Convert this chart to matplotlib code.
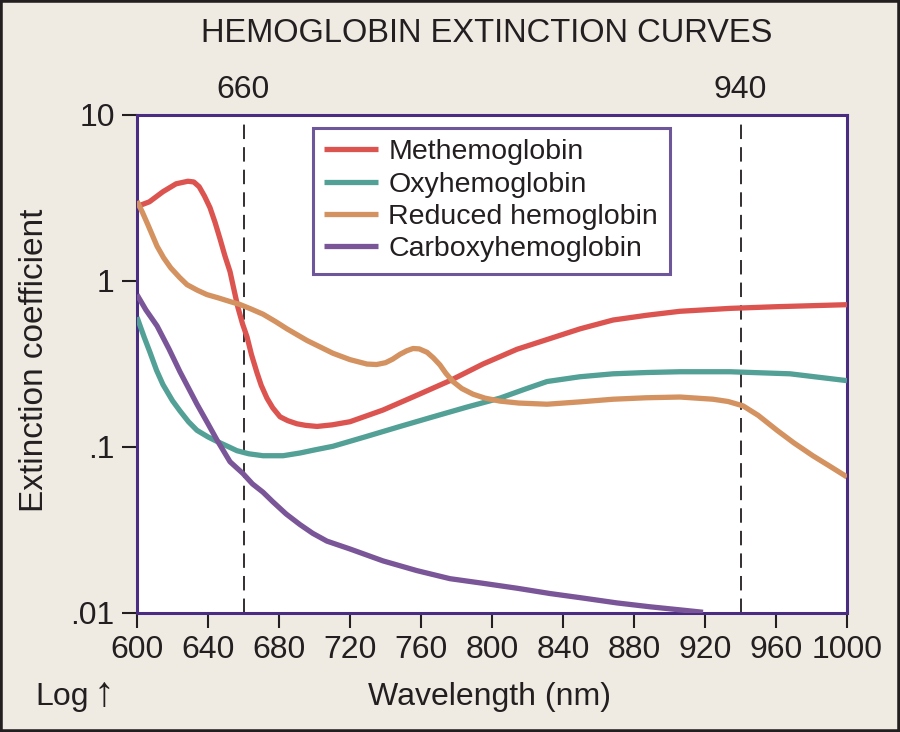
import matplotlib
matplotlib.use("Agg")
import matplotlib.pyplot as plt
from matplotlib.patches import Rectangle

plt.rcParams['font.family'] = ['Liberation Sans', 'DejaVu Sans']

# ---- data ----
met_wl = [600, 607, 614.6, 622, 628.7, 632, 635, 638, 641.1, 644, 646.8, 649.5, 652.4, 654.5,
          656.9, 659.5, 662, 664.5, 667.6, 670, 673.2, 676.5, 680.6, 685, 690.1, 695,
          701.4, 710, 720, 738.6, 757.7, 776.3, 794.9, 814.1, 832.7, 849.6, 868.2, 887.3, 905.9,
          934.1, 960, 1000]
met_val = [2.81, 3.0, 3.45, 3.85, 3.99, 3.95, 3.7, 3.25, 2.77, 2.25, 1.79, 1.42, 1.14, 0.9,
           0.69, 0.55, 0.46, 0.36, 0.28, 0.235, 0.197, 0.172, 0.152, 0.144, 0.138, 0.135,
           0.133, 0.136, 0.142, 0.167, 0.205, 0.251, 0.316, 0.388, 0.45, 0.515, 0.582, 0.622, 0.657,
           0.684, 0.70, 0.72]

oxy_wl = [600, 604, 607.3, 611, 614.6, 620, 624.2, 629, 633.8, 640, 645.1, 651, 656.3, 663, 671,
          682.3, 691.8, 700, 710.4, 729.6, 748.2, 766.8, 785.9, 804.5, 818, 831, 849.6, 868.2,
          887, 905.9, 934.1, 967.9, 1000]
oxy_val = [0.605, 0.46, 0.372, 0.29, 0.238, 0.19, 0.165, 0.142, 0.126, 0.115, 0.108, 0.101,
           0.095, 0.091, 0.0886, 0.0886, 0.092, 0.096, 0.101, 0.116, 0.133, 0.152, 0.174, 0.197,
           0.222, 0.248, 0.265, 0.276, 0.281, 0.284, 0.284, 0.276, 0.251]

red_wl = [600, 603, 606, 611.3, 615, 619, 624, 628.2, 634, 639.4, 646, 652.4, 658, 664, 671,
          678, 684.5, 695.8, 710.4, 720, 729.6, 735, 740, 744, 748.2, 752, 755.5, 759, 763.4,
          767, 770.7, 774, 778, 783, 789.3, 796, 804.5, 815, 831, 849.6, 868.2, 887, 905.9, 924.5,
          933, 941.4, 950, 960.6, 970, 980.8, 990, 1000]
red_val = [3.03, 2.6, 2.2, 1.62, 1.38, 1.2, 1.05, 0.95, 0.88, 0.828, 0.79, 0.752, 0.722, 0.68,
           0.631, 0.57, 0.515, 0.438, 0.367, 0.336, 0.316, 0.314, 0.322, 0.338, 0.362, 0.38,
           0.392, 0.39, 0.372, 0.344, 0.312, 0.278, 0.248, 0.225, 0.208, 0.197, 0.189, 0.184,
           0.181, 0.187, 0.194, 0.198, 0.20, 0.194, 0.188, 0.177, 0.155, 0.126, 0.106, 0.0885,
           0.077, 0.066]

carb_wl = [600, 605, 611.3, 618, 624.2, 633.8, 640, 645.1, 652.4, 659.7, 665, 671, 676.6, 684,
           691.8, 699, 707, 720, 738.6, 757.7, 776.3, 794.9, 814.1, 832.7, 851.3, 870.4, 889,
           907.6, 918.9]
carb_val = [0.827, 0.67, 0.536, 0.39, 0.284, 0.181, 0.138, 0.11, 0.0815, 0.0692, 0.06, 0.0534,
            0.0467, 0.0395, 0.0341, 0.0302, 0.0271, 0.0243, 0.0206, 0.018, 0.0161, 0.0151, 0.0141,
            0.0131, 0.0123, 0.0115, 0.0109, 0.0104, 0.0101]

series_labels = ["Methemoglobin", "Oxyhemoglobin", "Reduced hemoglobin", "Carboxyhemoglobin"]
series_colors = ["#dc5450", "#52a096", "#d39260", "#7a5699"]

x_ticks = [600, 640, 680, 720, 760, 800, 840, 880, 920, 960, 1000]
y_ticks = [0.01, 0.1, 1, 10]
y_tick_labels = [".01", ".1", "1", "10"]
marker_wl = [660, 940]

# ---- figure ----
BG = "#efebe3"
SPINE = "#4a2c82"
INK = "#231f20"
fig = plt.figure(figsize=(9, 7.32), dpi=100, facecolor=BG)
fig.patches.append(Rectangle((0, 0), 1, 1, transform=fig.transFigure, fill=False,
                             edgecolor=INK, linewidth=4, zorder=10))

ax = fig.add_axes([137/900, 1-613/732, (847-137)/900, (613-115)/732])
ax.set_facecolor("white")
ax.set_yscale("log")
ax.set_xlim(600, 1000)
ax.set_ylim(0.01, 10)

for wl, val, lab, col in zip([met_wl, oxy_wl, red_wl, carb_wl],
                             [met_val, oxy_val, red_val, carb_val],
                             series_labels, series_colors):
    ax.plot(wl, val, color=col, lw=3.8, label=lab, solid_capstyle="butt",
            solid_joinstyle="round", zorder=3)

for m in marker_wl:
    ax.axvline(m, color=INK, lw=1.3, ls=(0, (8, 4.5)), zorder=2)
    ax.text(m, 1.02, str(m), transform=ax.get_xaxis_transform(), ha="center",
            va="bottom", fontsize=23, color=INK)

ax.set_xticks(x_ticks)
ax.set_xticklabels([str(t) for t in x_ticks])
ax.set_yticks(y_ticks)
ax.set_yticklabels(y_tick_labels)
ax.minorticks_off()
ax.tick_params(axis="both", length=11, width=1.5, color=INK, labelsize=23,
               labelcolor=INK, pad=5)
for s in ax.spines.values():
    s.set_color(SPINE)
    s.set_linewidth(2.2)

ax.set_ylabel("Extinction coefficient", fontsize=24, color=INK)
ax.yaxis.set_label_coords(-(137-50)/710, 0.508)

fig.text(487/900, 1-33/732, "HEMOGLOBIN EXTINCTION CURVES", ha="center", va="center",
         fontsize=23.5, color=INK)
fig.text(490/900, 1-697/732, "Wavelength (nm)", ha="center", va="center",
         fontsize=23, color=INK)
fig.text(35/900, 1-697/732, "Log", ha="left", va="center", fontsize=23, color=INK)
fig.text(104/900, 1-695/732, "\u2191", ha="center", va="center", fontsize=30,
         color=INK, family=["Liberation Sans", "DejaVu Sans"])

leg = ax.legend(loc="upper left", bbox_to_anchor=(313/900, 1-128/732),
                bbox_transform=fig.transFigure, fontsize=20.5, frameon=True,
                fancybox=False, edgecolor=SPINE, handlelength=1.9, handletextpad=0.35,
                labelspacing=0.22, borderpad=0.4, borderaxespad=0)
leg.get_frame().set_linewidth(2.2)
for t in leg.get_texts():
    t.set_color(INK)

fig.savefig("out.png", dpi=100, facecolor=BG)
